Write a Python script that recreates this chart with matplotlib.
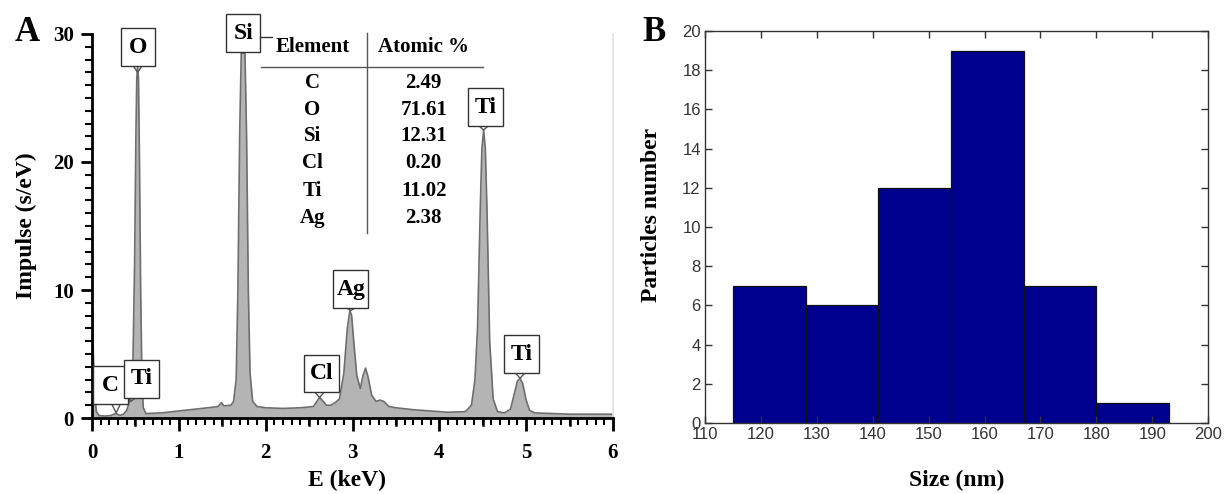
import matplotlib
matplotlib.use("Agg")
import matplotlib.pyplot as plt
from matplotlib.patches import Rectangle
from matplotlib.ticker import MultipleLocator

# ---------------- Data: EDX spectrum ----------------
energy_kev = [0.00, 0.005, 0.015, 0.03, 0.05, 0.08, 0.15, 0.22, 0.25, 0.28, 0.32, 0.36,
              0.40, 0.44, 0.47, 0.49, 0.505, 0.515, 0.525, 0.535, 0.545, 0.56, 0.575, 0.59,
              0.62, 0.80, 1.00, 1.20, 1.40, 1.45, 1.49, 1.52, 1.60, 1.63, 1.66, 1.68,
              1.70, 1.72, 1.74, 1.76, 1.78, 1.80, 1.82, 1.85, 1.90, 2.00, 2.20, 2.40,
              2.55, 2.60, 2.62, 2.65, 2.70, 2.75, 2.80, 2.85, 2.90, 2.94, 2.97, 2.99,
              3.02, 3.05, 3.09, 3.12, 3.15, 3.18, 3.22, 3.27, 3.32, 3.36, 3.42, 3.50,
              3.70, 3.90, 4.10, 4.30, 4.37, 4.41, 4.44, 4.47, 4.49, 4.51, 4.53, 4.55,
              4.58, 4.62, 4.67, 4.75, 4.82, 4.86, 4.90, 4.93, 4.96, 5.00, 5.04, 5.10,
              5.50, 6.00]
impulse = [9.0, 8.5, 5.0, 2.0, 0.5, 0.2, 0.15, 0.2, 0.3, 0.35, 0.2, 0.3,
           0.6, 1.5, 4.0, 12.0, 22.0, 26.5, 27.5, 26.5, 21.0, 10.0, 3.0, 0.8,
           0.35, 0.4, 0.55, 0.7, 0.85, 0.9, 1.2, 0.95, 1.0, 1.3, 3.0, 10.0,
           22.0, 29.0, 31.0, 29.0, 22.0, 10.0, 3.5, 1.3, 0.9, 0.8, 0.75, 0.8,
           0.9, 1.4, 1.6, 1.4, 1.0, 1.0, 1.2, 1.5, 3.5, 7.0, 8.4, 8.0,
           5.5, 3.3, 2.3, 3.3, 3.9, 3.2, 1.8, 1.3, 1.4, 1.3, 0.9, 0.8,
           0.65, 0.55, 0.45, 0.5, 1.0, 3.0, 7.0, 16.0, 21.0, 22.5, 21.0, 16.0,
           6.0, 1.5, 0.5, 0.4, 0.7, 1.8, 2.9, 3.1, 2.7, 1.4, 0.6, 0.4,
           0.3, 0.3]

# Peak labels: element, peak energy, peak tip height
peak_elements = ["C", "Ti", "O", "Si", "Cl", "Ag", "Ti", "Ti"]
peak_energy = [0.277, 0.45, 0.525, 1.74, 2.62, 2.98, 4.51, 4.93]
peak_tip = [0.4, 1.3, 27.0, 28.5, 1.6, 8.4, 22.5, 3.1]
# box centre (keV) and box bottom (s/eV) -- layout
box_x = [0.21, 0.57, 0.53, 1.74, 2.64, 2.98, 4.53, 4.95]
box_bottom = [1.1, 1.6, 27.5, 28.6, 2.0, 8.6, 22.8, 3.5]

# Composition table
table_elements = ["C", "O", "Si", "Cl", "Ti", "Ag"]
table_atomic = ["2.49", "71.61", "12.31", "0.20", "11.02", "2.38"]

# ---------------- Data: size histogram ----------------
bin_edges = [115, 128, 141, 154, 167, 180, 193]
particle_counts = [7, 6, 12, 19, 7, 1]

# ---------------- Figure ----------------
fig = plt.figure(figsize=(12.24, 4.94), dpi=100)
serif = "Liberation Serif"
sans = "Liberation Sans"

# Panel A
axA = fig.add_axes([0.0752, 0.1538, 0.4256, 0.7774])
axA.fill_between(energy_kev, 0, impulse, color="#b4b4b4", lw=0, zorder=1)
axA.plot(energy_kev, impulse, color="#6e6e6e", lw=1.2, zorder=2)
axA.set_xlim(0, 6)
axA.set_ylim(0, 30)
axA.spines["top"].set_visible(False)
axA.spines["right"].set_color("#e2e2e2")
axA.spines["right"].set_linewidth(1.2)
axA.spines["left"].set_linewidth(2)
axA.spines["bottom"].set_linewidth(2)
axA.xaxis.set_major_locator(MultipleLocator(1))
axA.xaxis.set_minor_locator(MultipleLocator(0.1))
axA.yaxis.set_major_locator(MultipleLocator(10))
axA.yaxis.set_minor_locator(MultipleLocator(1))
axA.tick_params(axis="x", which="major", direction="out", length=9, width=2, pad=9)
axA.tick_params(axis="x", which="minor", direction="out", length=5, width=1.5)
axA.tick_params(axis="y", which="major", direction="out", length=8, width=2, pad=5)
axA.tick_params(axis="y", which="minor", direction="out", length=5, width=1.5)
axA.tick_params(right=False, top=False)
# medium ticks at half keV
for e in [0.5, 1.5, 2.5, 3.5, 4.5, 5.5]:
    axA.plot([e, e], [0, -0.55], color="black", lw=1.8, clip_on=False, zorder=5)
for lab in axA.get_xticklabels() + axA.get_yticklabels():
    lab.set_fontfamily(serif)
    lab.set_fontweight("bold")
    lab.set_fontsize(15)
axA.set_xlabel("E (keV)", fontfamily=serif, fontweight="bold", fontsize=17)
axA.xaxis.set_label_coords(0.49, -0.135)
axA.set_ylabel("Impulse (s/eV)", fontfamily=serif, fontweight="bold", fontsize=17)
axA.yaxis.set_label_coords(-0.105, 0.5)

box_w = 0.40
box_h = 2.95
for el, pe, pt, bx, bb in zip(peak_elements, peak_energy, peak_tip, box_x, box_bottom):
    axA.plot([pe - 0.05, pe, pe + 0.05], [bb, pt, bb], color="#555555", lw=1.0, zorder=3)
    axA.add_patch(Rectangle((bx - box_w / 2, bb), box_w, box_h, facecolor="white",
                            edgecolor="#333333", lw=1.0, zorder=4, clip_on=False))
    axA.text(bx, bb + box_h / 2, el, ha="center", va="center", fontfamily=serif,
             fontweight="bold", fontsize=17, zorder=5, clip_on=False)
# small line at Si box
axA.plot([1.94, 2.07], [29.8, 29.8], color="#333333", lw=1.0, zorder=4, clip_on=False)

# Table
col_el_x = 2.54
col_val_x = 3.82
tfs = 15
axA.text(col_el_x, 29.0, "Element", ha="center", va="center", fontfamily=serif,
         fontweight="bold", fontsize=tfs)
axA.text(col_val_x, 29.0, "Atomic %", ha="center", va="center", fontfamily=serif,
         fontweight="bold", fontsize=tfs)
axA.plot([1.95, 4.50], [27.4, 27.4], color="#555555", lw=1.0)
axA.plot([3.17, 3.17], [30.1, 14.45], color="#555555", lw=1.0, clip_on=False)
row_y = [26.2, 24.1, 22.0, 19.9, 17.7, 15.6]
for el, val, ry in zip(table_elements, table_atomic, row_y):
    axA.text(col_el_x, ry, el, ha="center", va="center", fontfamily=serif,
             fontweight="bold", fontsize=tfs)
    axA.text(col_val_x, ry, val, ha="center", va="center", fontfamily=serif,
             fontweight="bold", fontsize=tfs)

fig.text(0.022, 0.935, "A", fontfamily=serif, fontweight="bold", fontsize=25,
         ha="center", va="center")

# Panel B
axB = fig.add_axes([0.576, 0.1437, 0.411, 0.7935])
widths = [b - a for a, b in zip(bin_edges[:-1], bin_edges[1:])]
axB.bar(bin_edges[:-1], particle_counts, width=widths, align="edge",
        color="#00008f", edgecolor="#101010", linewidth=0.9)
axB.set_xlim(110, 200)
axB.set_ylim(0, 20)
axB.xaxis.set_major_locator(MultipleLocator(10))
axB.yaxis.set_major_locator(MultipleLocator(2))
axB.tick_params(direction="in", length=5, width=1, top=True, right=True,
                labelsize=12, labelcolor="#333333", color="#333333")
axB.tick_params(axis="x", pad=3)
axB.tick_params(axis="y", pad=3)
for s in axB.spines.values():
    s.set_color("#333333")
    s.set_linewidth(1.0)
for lab in axB.get_xticklabels() + axB.get_yticklabels():
    lab.set_fontfamily(sans)
axB.set_xlabel("Size (nm)", fontfamily=serif, fontweight="bold", fontsize=17)
axB.xaxis.set_label_coords(0.5, -0.12)
axB.set_ylabel("Particles number", fontfamily=serif, fontweight="bold", fontsize=17)
axB.yaxis.set_label_coords(-0.085, 0.53)

fig.text(0.534, 0.935, "B", fontfamily=serif, fontweight="bold", fontsize=25,
         ha="center", va="center")

fig.savefig("out.png", dpi=100)
